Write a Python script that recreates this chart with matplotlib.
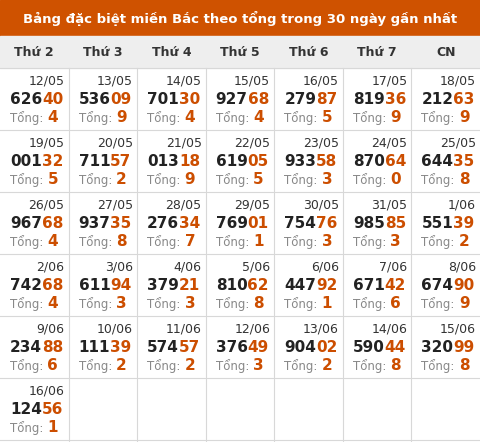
import matplotlib
matplotlib.use("Agg")
import matplotlib.pyplot as plt
from matplotlib.patches import Rectangle

title = "Bảng đặc biệt miền Bắc theo tổng trong 30 ngày gần nhất"
days = ["Thứ 2", "Thứ 3", "Thứ 4", "Thứ 5", "Thứ 6", "Thứ 7", "CN"]
dates = ["12/05","13/05","14/05","15/05","16/05","17/05","18/05",
         "19/05","20/05","21/05","22/05","23/05","24/05","25/05",
         "26/05","27/05","28/05","29/05","30/05","31/05","1/06",
         "2/06","3/06","4/06","5/06","6/06","7/06","8/06",
         "9/06","10/06","11/06","12/06","13/06","14/06","15/06",
         "16/06"]
numbers = ["62640","53609","70130","92768","27987","81936","21263",
           "00132","71157","01318","61905","93358","87064","64435",
           "96768","93735","27634","76901","75476","98585","55139",
           "74268","61194","37921","81062","44792","67142","67490",
           "23488","11139","57457","37649","90402","59044","32099",
           "12456"]
totals = [4,9,4,4,5,9,9, 5,2,9,5,3,0,8, 4,8,7,1,3,3,2,
          4,3,3,8,1,6,9, 6,2,2,3,2,8,8, 1]

W, H = 480, 442
fig = plt.figure(figsize=(4.8, 4.42), dpi=100)
ax = fig.add_axes([0, 0, 1, 1])
ax.set_xlim(0, W); ax.set_ylim(H, 0); ax.axis("off")

orange = "#cc4e00"
dark = "#222222"
ax.add_patch(Rectangle((0, 0), W, 36, color="#cf5200"))
ax.text(W/2, 18, title, color="white", fontsize=9.5, fontweight="bold", ha="center", va="center")
ax.add_patch(Rectangle((0, 36), W, 32, color="#eeeeee"))
cw = W/7
for i, d in enumerate(days):
    ax.text(cw*i + cw/2, 52, d, fontsize=9, fontweight="bold", color="#333333", ha="center", va="center")
top = 68
rh = 62
grid = "#d8d8d8"
for r in range(7):
    ax.plot([0, W], [top + r*rh, top + r*rh], color=grid, lw=0.8)
for c in range(1, 7):
    ax.plot([cw*c, cw*c], [top, H], color=grid, lw=0.8)
for k, (dt, num, t) in enumerate(zip(dates, numbers, totals)):
    r, c = divmod(k, 7)
    x0 = cw*c; y0 = top + r*rh
    ax.text(x0 + cw - 4, y0 + 13, dt, fontsize=9, color="#333333", ha="right", va="center")
    ta = ax.text(x0 + 10, y0 + 31, num[:3], fontsize=11, fontweight="bold", color=dark, ha="left", va="center")
    fig.canvas.draw()
    xe = ta.get_window_extent().x1
    ax.text(xe, H - (y0 + 31), num[3:], fontsize=11, fontweight="bold", color=orange,
            ha="left", va="center", transform=None)
    tb = ax.text(x0 + 10, y0 + 50, "Tổng:", fontsize=8.5, color="#888888", ha="left", va="center")
    fig.canvas.draw()
    xe2 = tb.get_window_extent().x1 + 4
    ax.text(xe2, H - (y0 + 50), str(t), fontsize=11, fontweight="bold", color=orange,
            ha="left", va="center", transform=None)
fig.savefig("out.png", dpi=100)
